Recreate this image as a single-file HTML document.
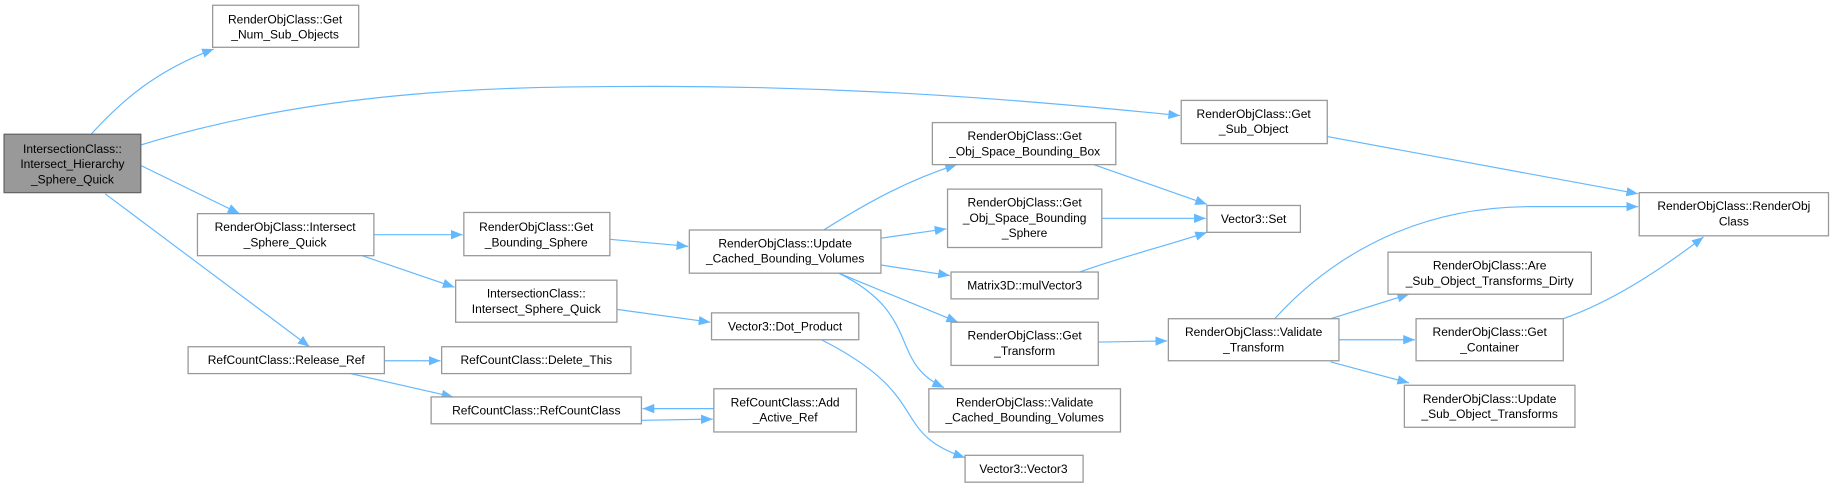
<!DOCTYPE html>
<html><head><meta charset="utf-8"><style>
html,body{margin:0;padding:0;background:#fff;}
svg{display:block;}
text{font-family:"Liberation Sans",Arial,sans-serif;font-size:10.3px;fill:#000;}
.b{fill:#fff;stroke:#999;stroke-width:1.1;}
.e{fill:none;stroke:#63b8ff;stroke-width:1;}
</style></head><body>
<svg width="1832" height="488" viewBox="0 0 1568 418" preserveAspectRatio="none" xmlns="http://www.w3.org/2000/svg">
<defs><marker id="a" markerWidth="11" markerHeight="8" refX="10" refY="4" orient="auto" markerUnits="userSpaceOnUse"><path d="M0,0 L10,4 L0,8 z" fill="#63b8ff"/></marker></defs>
<g class="e" marker-end="url(#a)">
<path d="M78,115 C105,85 135,60 183,42"/>
<path d="M121,124 C280,75 440,74 560,74 C740,74 880,86 1010,99"/>
<path d="M121,142 L205,183"/>
<path d="M90,166 L265,297"/>
<path d="M320,201 L396,201"/>
<path d="M310,219 L389,246"/>
<path d="M329,309 L377,309"/>
<path d="M300,320 L388,340"/>
<path d="M522,205 L589,211"/>
<path d="M528,265 L608,276"/>
<path d="M549,360 L610,359"/>
<path d="M611,350 L550,350"/>
<path d="M703,291 C800,340 760,370 826,392"/>
<path d="M705,197 C740,175 775,155 819,141"/>
<path d="M754,204 L810,196"/>
<path d="M754,227 L813,236"/>
<path d="M718,234 L820,276"/>
<path d="M718,234 C790,270 760,310 808,332"/>
<path d="M936,141 L1033,175"/>
<path d="M943,187 L1032,187"/>
<path d="M924,233 C960,220 1000,210 1033,199"/>
<path d="M940,293 L999,292"/>
<path d="M1136,117 L1402,166"/>
<path d="M1091,273 C1130,230 1200,177 1310,177 L1402,177"/>
<path d="M1139,273 L1206,252"/>
<path d="M1146,291 L1211,291"/>
<path d="M1139,310 L1206,328"/>
<path d="M1338,273 C1380,258 1420,232 1458,203"/>
</g>
<g text-anchor="middle">
<rect x="3.5" y="115" width="117" height="50" fill="#999" stroke="#666" stroke-width="1.1"/>
<text x="62" y="131">IntersectionClass::</text><text x="62" y="144">Intersect_Hierarchy</text><text x="62" y="157">_Sphere_Quick</text>

<rect class="b" x="182" y="4.5" width="125" height="36"/>
<text x="244" y="20">RenderObjClass::Get</text><text x="244" y="33">_Num_Sub_Objects</text>

<rect class="b" x="169" y="183" width="151" height="36"/>
<text x="244" y="198">RenderObjClass::Intersect</text><text x="244" y="211">_Sphere_Quick</text>

<rect class="b" x="161" y="297" width="168" height="23"/>
<text x="245" y="312">RefCountClass::Release_Ref</text>

<rect class="b" x="397" y="182" width="125" height="37"/>
<text x="459" y="198">RenderObjClass::Get</text><text x="459" y="211">_Bounding_Sphere</text>

<rect class="b" x="390" y="240" width="138" height="36"/>
<text x="459" y="255">IntersectionClass::</text><text x="459" y="268">Intersect_Sphere_Quick</text>

<rect class="b" x="378" y="297" width="162" height="23"/>
<text x="459" y="312">RefCountClass::Delete_This</text>

<rect class="b" x="369" y="340" width="180" height="23"/>
<text x="459" y="355">RefCountClass::RefCountClass</text>

<rect class="b" x="590" y="197" width="164" height="37"/>
<text x="672" y="212">RenderObjClass::Update</text><text x="672" y="225">_Cached_Bounding_Volumes</text>

<rect class="b" x="609" y="268" width="126" height="23"/>
<text x="672" y="283">Vector3::Dot_Product</text>

<rect class="b" x="611" y="333" width="122" height="37"/>
<text x="672" y="348">RefCountClass::Add</text><text x="672" y="361">_Active_Ref</text>

<rect class="b" x="798" y="105" width="157" height="36"/>
<text x="877" y="120">RenderObjClass::Get</text><text x="877" y="133">_Obj_Space_Bounding_Box</text>

<rect class="b" x="811" y="162" width="132" height="50"/>
<text x="877" y="177">RenderObjClass::Get</text><text x="877" y="190">_Obj_Space_Bounding</text><text x="877" y="203">_Sphere</text>

<rect class="b" x="814" y="233" width="126" height="23"/>
<text x="877" y="248">Matrix3D::mulVector3</text>

<rect class="b" x="814" y="276" width="126" height="37"/>
<text x="877" y="291">RenderObjClass::Get</text><text x="877" y="304">_Transform</text>

<rect class="b" x="795" y="333" width="164" height="37"/>
<text x="877" y="348">RenderObjClass::Validate</text><text x="877" y="361">_Cached_Bounding_Volumes</text>

<rect class="b" x="826" y="390" width="101" height="23"/>
<text x="876" y="405">Vector3::Vector3</text>

<rect class="b" x="1033" y="176" width="80" height="23"/>
<text x="1073" y="191">Vector3::Set</text>

<rect class="b" x="1011" y="86" width="125" height="37"/>
<text x="1073" y="101">RenderObjClass::Get</text><text x="1073" y="114">_Sub_Object</text>

<rect class="b" x="1000" y="273" width="146" height="36"/>
<text x="1073" y="288">RenderObjClass::Validate</text><text x="1073" y="301">_Transform</text>

<rect class="b" x="1403" y="165" width="162" height="37"/>
<text x="1484" y="180">RenderObjClass::RenderObj</text><text x="1484" y="193">Class</text>

<rect class="b" x="1188" y="216" width="174" height="36"/>
<text x="1275" y="231">RenderObjClass::Are</text><text x="1275" y="244">_Sub_Object_Transforms_Dirty</text>

<rect class="b" x="1212" y="273" width="126" height="36"/>
<text x="1275" y="288">RenderObjClass::Get</text><text x="1275" y="301">_Container</text>

<rect class="b" x="1202" y="330" width="146" height="36"/>
<text x="1275" y="345">RenderObjClass::Update</text><text x="1275" y="358">_Sub_Object_Transforms</text>
</g>
</svg>
</body></html>
